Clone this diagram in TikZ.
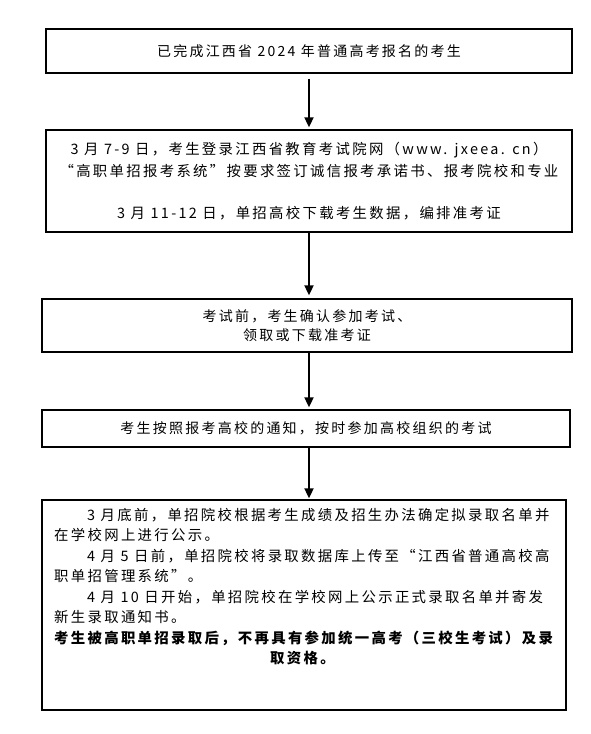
\documentclass[tikz,border=0pt]{standalone}
\usepackage{fontspec}
\setmainfont{Noto Sans CJK SC}[LetterSpace=16]
\usetikzlibrary{arrows.meta}
\tikzset{
  box/.style={draw=black, line width=1.3pt, align=center, inner sep=0pt,
              font=\fontsize{14}{22}\selectfont},
  arr/.style={line width=1.8pt, -{Triangle[width=9pt,length=10pt]}}
}
\begin{document}
\begin{tikzpicture}[x=1pt,y=-1pt]
\useasboundingbox (0,0) rectangle (591,734);
\coordinate (ax) at (309,0);
\node[box, minimum width=526pt, minimum height=44pt] (b1) at (309,51)
  {已完成江西省 2024 年普通高考报名的考生};
\node[box, minimum width=526pt, minimum height=102pt, font=\fontsize{14.4}{22}\selectfont] (b2) at (309,181)
  {3 月 7-9 日，考生登录江西省教育考试院网（www. jxeea. cn）\\
   “高职单招报考系统”按要求签订诚信报考承诺书、报考院校和专业\\[20pt]
   3 月 11-12 日，单招高校下载考生数据，编排准考证};
\node[box, minimum width=530pt, minimum height=53pt, font=\fontsize{14}{19}\selectfont] (b3) at (307,325.5)
  {考试前，考生确认参加考试、\\领取或下载准考证};
\node[box, minimum width=528pt, minimum height=37pt] (b4) at (306,428.5)
  {考生按照报考高校的通知，按时参加高校组织的考试};
\node[box, minimum width=524pt, minimum height=210pt] (b5) at (304,605) {};
\node[anchor=north west, align=left, inner sep=0pt,
      font=\fontsize{14.4}{20.5}\selectfont] (b5t) at (54,508)
  {\hspace*{33pt}3 月底前，单招院校根据考生成绩及招生办法确定拟录取名单并\\
   在学校网上进行公示。\\
   \hspace*{33pt}4 月 5 日前，单招院校将录取数据库上传至“江西省普通高校高\\
   职单招管理系统”。\\
   \hspace*{33pt}4 月 10 日开始，单招院校在学校网上公示正式录取名单并寄发\\
   新生录取通知书。\\
   \textbf{考生被高职单招录取后，不再具有参加统一高考（三校生考试）及录}\\
   \hspace*{216pt}\textbf{取资格。}};
\draw[arr] ([yshift=-5pt]b1.south -| ax) -- ([yshift=2pt]b2.north -| ax);
\draw[arr] (b2.south -| ax) -- ([yshift=3pt]b3.north -| ax);
\draw[arr] (b3.south -| ax) -- ([yshift=2pt]b4.north -| ax);
\draw[arr] (b4.south -| ax) -- ([yshift=1pt]b5.north -| ax);
\end{tikzpicture}
\end{document}
